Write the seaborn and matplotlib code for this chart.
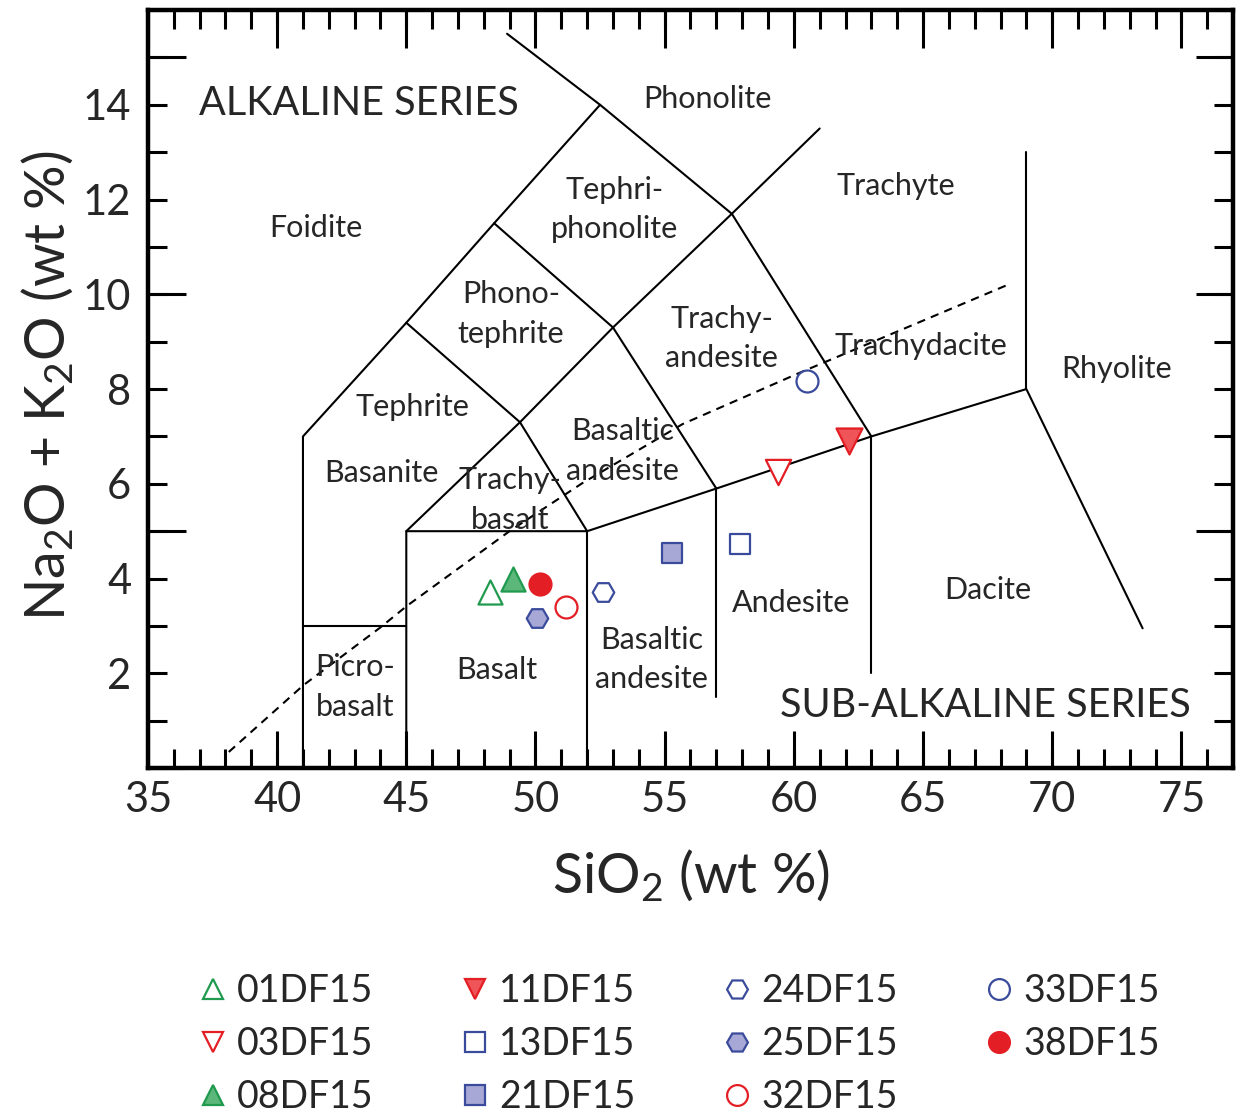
import matplotlib
matplotlib.use('Agg')
import matplotlib.pyplot as plt
import seaborn as sns
import pandas as pd
import numpy as np
from matplotlib.lines import Line2D

# ---------------- data ----------------
samples = ['01DF15', '03DF15', '08DF15', '11DF15', '13DF15', '21DF15',
           '24DF15', '25DF15', '32DF15', '33DF15', '38DF15']
sio2 = [48.24, 59.40, 49.13, 62.14, 57.90, 55.30, 52.60, 50.06, 51.18, 60.52, 50.17]
alkali = [3.71, 6.25, 4.00, 6.91, 4.72, 4.53, 3.71, 3.16, 3.41, 8.17, 3.89]

# TAS field boundaries (SiO2, Na2O+K2O)
boundaries = [
    [(41, 0), (41, 7), (45, 9.4), (48.4, 11.5), (52.5, 14), (48.9, 15.5)],
    [(41, 3), (45, 3)],
    [(45, 0), (45, 5), (49.4, 7.3), (53, 9.3), (57.6, 11.7), (61, 13.5)],
    [(45, 5), (52, 5), (57, 5.9), (63, 7), (69, 8), (73.5, 2.95)],
    [(52, 0), (52, 5)],
    [(57, 1.5), (57, 5.9)],
    [(63, 2), (63, 7)],
    [(69, 8), (69, 13)],
    [(45, 9.4), (49.4, 7.3), (52, 5)],
    [(48.4, 11.5), (53, 9.3), (57, 5.9)],
    [(52.5, 14), (57.6, 11.7), (63, 7)],
]

# alkaline / sub-alkaline divide
divide_x = [38.13, 41.02, 44.00, 45.04, 49.02, 51.83, 55.69, 60.21, 68.32]
divide_y = [0.34, 1.75, 2.97, 3.43, 5.01, 6.02, 7.26, 8.34, 10.21]

region_names = ['Phonolite', 'Foidite', 'Tephri-\nphonolite', 'Trachyte',
                'Phono-\ntephrite', 'Trachy-\nandesite', 'Trachydacite',
                'Rhyolite', 'Tephrite', 'Basanite', 'Basaltic\nandesite',
                'Trachy-\nbasalt', 'Andesite', 'Dacite', 'Basaltic\nandesite',
                'Basalt', 'Picro-\nbasalt']
region_x = [56.66, 41.49, 53.07, 63.96, 49.05, 57.20, 64.90, 72.50, 45.23,
            44.03, 53.38, 49.00, 59.90, 67.50, 54.50, 48.50, 43.00]
region_y = [14.13, 11.41, 11.79, 12.29, 9.58, 9.07, 8.90, 8.42, 7.62,
            6.23, 6.69, 5.66, 3.49, 3.75, 2.29, 2.08, 1.71]

x_ticks = [35, 40, 45, 50, 55, 60, 65, 70, 75]
y_labels = [2, 4, 6, 8, 10, 12, 14]

# ---------------- styles ----------------
GREEN, GREEN_FILL = '#1f9a4e', '#5cb77a'
RED, RED_FILL = '#e31e24', '#ef5558'
BLUE, BLUE_FILL = '#3a4b9b', '#a7a8d6'
styles = {
    '01DF15': ('^', GREEN, 'white', 300),
    '03DF15': ('v', RED, 'white', 330),
    '08DF15': ('^', GREEN, GREEN_FILL, 300),
    '11DF15': ('v', RED, RED_FILL, 350),
    '13DF15': ('s', BLUE, 'white', 220),
    '21DF15': ('s', BLUE, BLUE_FILL, 220),
    '24DF15': ('H', BLUE, 'white', 240),
    '25DF15': ('H', BLUE, BLUE_FILL, 240),
    '32DF15': ('o', RED, 'white', 250),
    '33DF15': ('o', BLUE, 'white', 250),
    '38DF15': ('o', RED, RED, 250),
}

sns.set_theme(style='white')
plt.rcParams['font.family'] = ['Lato', 'DejaVu Sans']
plt.rcParams['mathtext.default'] = 'regular'

df = pd.DataFrame({'sample': samples, 'SiO2': sio2, 'alk': alkali})

fig = plt.figure(figsize=(12.38, 11.18), dpi=100)
ax = fig.add_axes([0.1195, 0.313, 0.8765, 0.678])

for line in boundaries:
    xs, ys = zip(*line)
    ax.plot(xs, ys, color='black', lw=1.5, zorder=2)
ax.plot(divide_x, divide_y, color='black', lw=1.5, ls=(0, (4, 3)), zorder=2)

for name, x, y in zip(region_names, region_x, region_y):
    ax.text(x, y, name, fontsize=22, ha='center', va='center',
            linespacing=1.5, zorder=3)
ax.text(36.97, 14.02, 'ALKALINE SERIES', fontsize=28.5, ha='left', va='center')
ax.text(75.35, 1.33, 'SUB-ALKALINE SERIES', fontsize=28.5, ha='right', va='center')

for _, row in df.iterrows():
    m, ec, fc, s = styles[row['sample']]
    sns.scatterplot(x=[row['SiO2']], y=[row['alk']], marker=m, s=s,
                    color=fc, edgecolor=ec, linewidth=1.6, ax=ax, zorder=5,
                    legend=False)

ax.set_xlim(35, 77)
ax.set_ylim(0, 16)
ax.xaxis.remove_overlapping_locs = False
ax.yaxis.remove_overlapping_locs = False
ax.set_xticks(x_ticks)
ax.set_xticklabels([str(v) for v in x_ticks])
ax.set_xticks(np.arange(35, 78, 1), minor=True)
ax.set_yticks([0, 5, 10, 15])
ax.set_yticklabels(['', '', '', ''])
ax.set_yticks(np.arange(0, 17, 1), minor=True)
ax.set_yticklabels([str(v) if v in y_labels else '' for v in range(0, 17)],
                   minor=True)
ax.tick_params(which='major', direction='in', length=27, width=2.2,
               top=True, right=True, bottom=True, left=True,
               labelsize=30, pad=9, color='black')
ax.tick_params(which='minor', direction='in', length=14, width=2.2,
               top=True, right=True, bottom=True, left=True,
               labelsize=30, pad=12, color='black')
ax.tick_params(axis='x', which='minor', labelbottom=False)
for sp in ax.spines.values():
    sp.set_linewidth(3.2)
    sp.set_color('black')
ax.grid(False)

ax.set_xlabel('SiO$_2$ (wt %)', fontsize=40)
ax.xaxis.set_label_coords(0.5, -0.105)
ax.set_ylabel('Na$_2$O + K$_2$O (wt %)', fontsize=40)
ax.yaxis.set_label_coords(-0.066, 0.505)

handles = []
for smp in samples:
    m, ec, fc, s = styles[smp]
    handles.append(Line2D([], [], marker=m, linestyle='none',
                          markerfacecolor=fc, markeredgecolor=ec,
                          markeredgewidth=1.6, markersize=15))
fig.legend(handles, samples, ncol=4, loc='center',
           bbox_to_anchor=(0.547, 0.066), frameon=False, fontsize=27,
           handlelength=1.0, handletextpad=0.15, columnspacing=2.2,
           labelspacing=0.45)

fig.savefig('out.png', dpi=100)
